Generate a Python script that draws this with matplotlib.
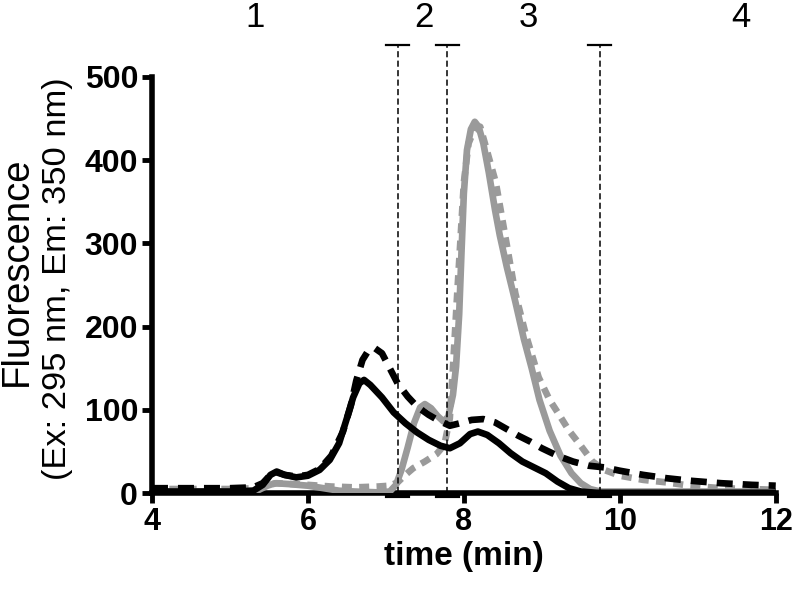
import matplotlib
matplotlib.use("Agg")
import matplotlib.pyplot as plt

plt.rcParams["font.family"] = ["Liberation Sans", "DejaVu Sans"]

# ── data (time in min, fluorescence) ─────────────────────────────────────
black_solid_t = [4.0, 4.5, 5.0, 5.3, 5.42, 5.52, 5.6, 5.7, 5.85, 6.0, 6.15, 6.28,
                 6.4, 6.5, 6.58, 6.66, 6.72, 6.8, 6.95, 7.1, 7.25, 7.4, 7.55, 7.7,
                 7.82, 7.95, 8.08, 8.18, 8.3, 8.45, 8.6, 8.75, 8.9, 9.05, 9.2,
                 9.35, 9.5, 9.7, 10.0, 11.0, 12.0]
black_solid_y = [2, 2, 2, 3, 10, 22, 26, 22, 19, 21, 28, 40,
                 60, 90, 115, 132, 136, 130, 115, 97, 84, 73, 64, 57,
                 54, 60, 71, 74, 70, 60, 48, 38, 31, 24, 14,
                 6, 2, 0.5, 0.5, 0.5, 0.5]

black_dash_t = [4.0, 4.5, 5.0, 5.3, 5.42, 5.52, 5.6, 5.7, 5.85, 6.0, 6.15, 6.3,
                6.45, 6.55, 6.62, 6.7, 6.78, 6.86, 6.95, 7.05, 7.15, 7.28, 7.4,
                7.55, 7.68, 7.82, 7.95, 8.1, 8.25, 8.4, 8.55, 8.7, 8.85, 9.0,
                9.2, 9.4, 9.6, 9.8, 10.0, 10.3, 10.6, 10.9, 11.3, 11.7, 12.0]
black_dash_y = [6, 6, 6, 7, 12, 22, 25, 22, 20, 22, 29, 45,
                74, 105, 135, 160, 172, 174, 168, 150, 132, 116, 104,
                94, 87, 81, 84, 88, 89, 85, 77, 69, 62, 54,
                45, 38, 33, 31, 27, 22, 18, 15, 12, 10, 9]

gray_solid_t = [4.0, 5.0, 5.35, 5.48, 5.58, 5.75, 6.0, 6.2, 6.4, 6.6, 6.9, 7.05,
                7.13, 7.2, 7.28, 7.36, 7.44, 7.5, 7.58, 7.66, 7.74, 7.8, 7.86,
                7.9, 7.94, 7.97, 8.0, 8.04, 8.09, 8.14, 8.19, 8.25, 8.32, 8.4,
                8.46, 8.55, 8.66, 8.77, 8.87, 8.97, 9.1, 9.24, 9.38, 9.5, 9.62,
                9.75, 10.0, 11.0, 12.0]
gray_solid_y = [2, 2, 3, 9, 12, 11, 9, 6, 3, 2, 1, 2,
                10, 28, 55, 84, 103, 107, 102, 93, 86, 92, 118,
                152, 215, 290, 360, 412, 437, 446, 440, 420, 385, 340,
                310, 272, 230, 185, 150, 112, 75, 45, 24, 12, 5,
                2, 2, 2, 2]

gray_dash_t = [4.0, 5.0, 5.35, 5.5, 5.6, 5.8, 6.0, 6.3, 6.6, 6.9, 7.05, 7.15,
               7.25, 7.35, 7.5, 7.65, 7.75, 7.82, 7.86, 7.91, 7.96, 8.0, 8.06,
               8.13, 8.21, 8.3, 8.41, 8.54, 8.66, 8.79, 8.96, 9.1, 9.21, 9.35,
               9.5, 9.65, 9.8, 10.0, 10.3, 10.6, 10.9, 11.3, 11.7, 12.0]
gray_dash_y = [5, 5, 6, 10, 12, 11, 10, 8, 7, 8, 9, 13,
               22, 30, 38, 47, 58, 90, 150, 232, 310, 373, 420,
               436, 440, 410, 373, 304, 240, 192, 139, 112, 96, 75,
               57, 38, 28, 21, 16, 13, 9, 6, 5, 4]

fraction_bounds = [7.15, 7.79, 9.74]
fraction_labels = ["1", "2", "3", "4"]
fraction_label_x = [5.32, 7.49, 8.83, 11.55]

GRAY = "#9a9a9a"

fig = plt.figure(figsize=(7.94, 6.0), dpi=100)
ax = fig.add_axes([0.1914, 0.178, 0.7856, 0.694])

ax.plot(gray_dash_t, gray_dash_y, color=GRAY, lw=4.8, dashes=(1.5, 1.1),
        solid_capstyle="butt", zorder=3)
ax.plot(gray_solid_t, gray_solid_y, color=GRAY, lw=4.8, zorder=4)
ax.plot(black_solid_t, black_solid_y, color="black", lw=4.8, zorder=5)
ax.plot(black_dash_t, black_dash_y, color="black", lw=4.8, dashes=(2.4, 1.5),
        zorder=6)

# fraction boundaries with T caps
for xb in fraction_bounds:
    ax.plot([xb, xb], [0, 538], color="black", lw=1.1, dashes=(4, 2.2),
            clip_on=False, zorder=7)
    ax.plot([xb - 0.15, xb + 0.15], [538, 538], color="black", lw=1.6,
            clip_on=False, zorder=7)
    ax.plot([xb - 0.13, xb + 0.13], [-3, -3], color="black", lw=3,
            clip_on=False, zorder=7)

for lx, lab in zip(fraction_label_x, fraction_labels):
    ax.text(lx, 571, lab, ha="center", va="center", fontsize=25)

ax.set_xlim(4, 12)
ax.set_ylim(0, 500)
ax.set_xticks([4, 6, 8, 10, 12])
ax.set_yticks([0, 100, 200, 300, 400, 500])

for s in ["top", "right"]:
    ax.spines[s].set_visible(False)
for s in ["left", "bottom"]:
    ax.spines[s].set_linewidth(4)

ax.tick_params(width=3.5, length=7, pad=3)
ax.tick_params(axis="y", labelsize=23)
ax.tick_params(axis="x", labelsize=22)
for lbl in ax.get_xticklabels() + ax.get_yticklabels():
    lbl.set_fontweight("bold")

ax.set_xlabel("time (min)", fontsize=24, fontweight="bold", labelpad=3)

# y label: two lines of different size, as in the source figure
fig.text(0.0215, 1 - 271 / 600, "Fluorescence", rotation=90,
         ha="center", va="center", fontsize=27.5)
fig.text(0.073, 1 - 279 / 600, "(Ex: 295 nm, Em: 350 nm)", rotation=90,
         ha="center", va="center", fontsize=24.8)

fig.savefig("out.png", dpi=100)
